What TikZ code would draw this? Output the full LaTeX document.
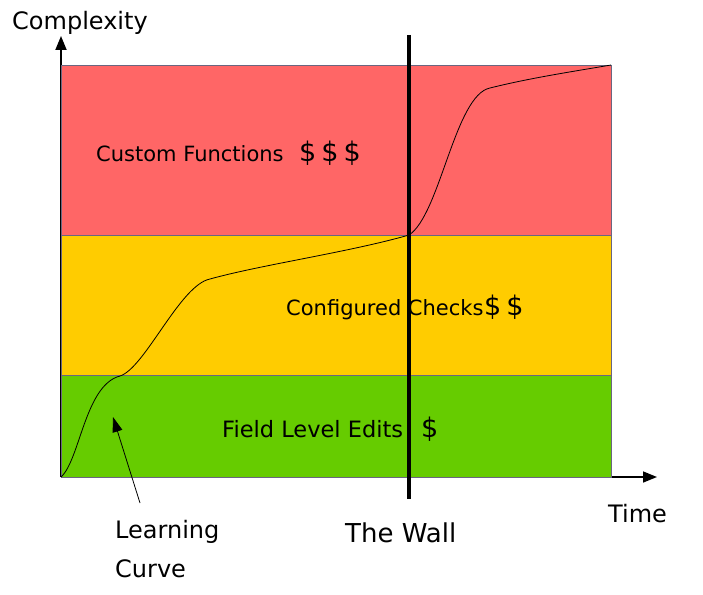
\documentclass[tikz,border=0pt]{standalone}
\usepackage{fontspec}
\setmainfont{DejaVu Sans}
\usetikzlibrary{arrows.meta}
\definecolor{cred}{HTML}{FF6666}
\definecolor{cyel}{HTML}{FFCC00}
\definecolor{cgrn}{HTML}{66CC00}
\definecolor{cedge}{HTML}{6A6680}
\begin{document}
\begin{tikzpicture}[x=1pt,y=-1pt,
  band/.style={draw=cedge,line width=0.9pt},
  lbl/.style={font=\fontsize{21}{24}\selectfont,inner sep=0pt,anchor=base west},
  biglbl/.style={lbl,font=\fontsize{24}{27}\selectfont},
  dollar/.style={font=\fontsize{27}{30}\selectfont,inner sep=0pt,anchor=base west},
  axis/.style={line width=1.8pt,-{Triangle[length=14pt,width=11pt]}},
  curve/.style={line width=0.8pt},
  wall/.style={line width=3.6pt}]
\useasboundingbox (0,0) rectangle (703,594);
% axes
\coordinate (O) at (61,477);
\coordinate (ytip) at (61,36);
\coordinate (xtip) at (657,477);
\draw[axis] (O) -- (ytip);
\draw[axis,line width=1.5pt] (O) -- (xtip);
% bands
\fill[cred] (61,65) rectangle (611,235);
\fill[cyel] (61,235) rectangle (611,375);
\fill[cgrn] (61,375) rectangle (611,477);
\draw[band] (61,65) rectangle (611,477);
\draw[band] (61,235) -- (611,235);
\draw[band] (61,375) -- (611,375);
% labels in bands
\node[lbl] (cf) at (96,161) {Custom Functions};
\node[dollar] (cfd) at (299,161) {\$\kern5pt\$\kern5pt\$};
\node[lbl] (cc) at (286,315) {Configured Checks};
\node[dollar] (ccd) at (484,315) {\$\kern5pt\$};
\node[lbl,font=\fontsize{22.5}{25}\selectfont] (fl) at (222,437) {Field Level Edits};
\node[dollar] (fld) at (421,437) {\$};
% learning curve
\coordinate (c0) at (61,477);
\coordinate (c1) at (120,376);
\coordinate (c2) at (210,279);
\coordinate (c3) at (409,235);
\coordinate (c4) at (490,88);
\coordinate (c5) at (611,65);
\draw[curve] (c0) .. controls (80,460) and (85,385) .. (c1)
  .. controls (145,368) and (180,285) .. (c2)
  .. controls (260,265) and (350,252) .. (c3)
  .. controls (440,215) and (455,95) .. (c4)
  .. controls (530,78) and (570,72) .. (c5);
% wall
\coordinate (wtop) at (409,35);
\coordinate (wbot) at (409,499);
\draw[wall] (wtop) -- (wbot);
% axis labels
\node[biglbl] (cx) at (12,30) {Complexity};
\node[biglbl] (tm) at (608,522) {Time};
\node[lbl,font=\fontsize{26}{29}\selectfont] (tw) at (345,542) {The Wall};
\node[biglbl] (lc1) at (115,538) {Learning};
\node[biglbl] (lc2) at (115,577) {Curve};
\coordinate (lctail) at (140,503);
\coordinate (lctip) at (113,417);
\draw[line width=0.8pt,-{Triangle[length=15pt,width=10pt]}] (lctail) -- (lctip);
\end{tikzpicture}
\end{document}
